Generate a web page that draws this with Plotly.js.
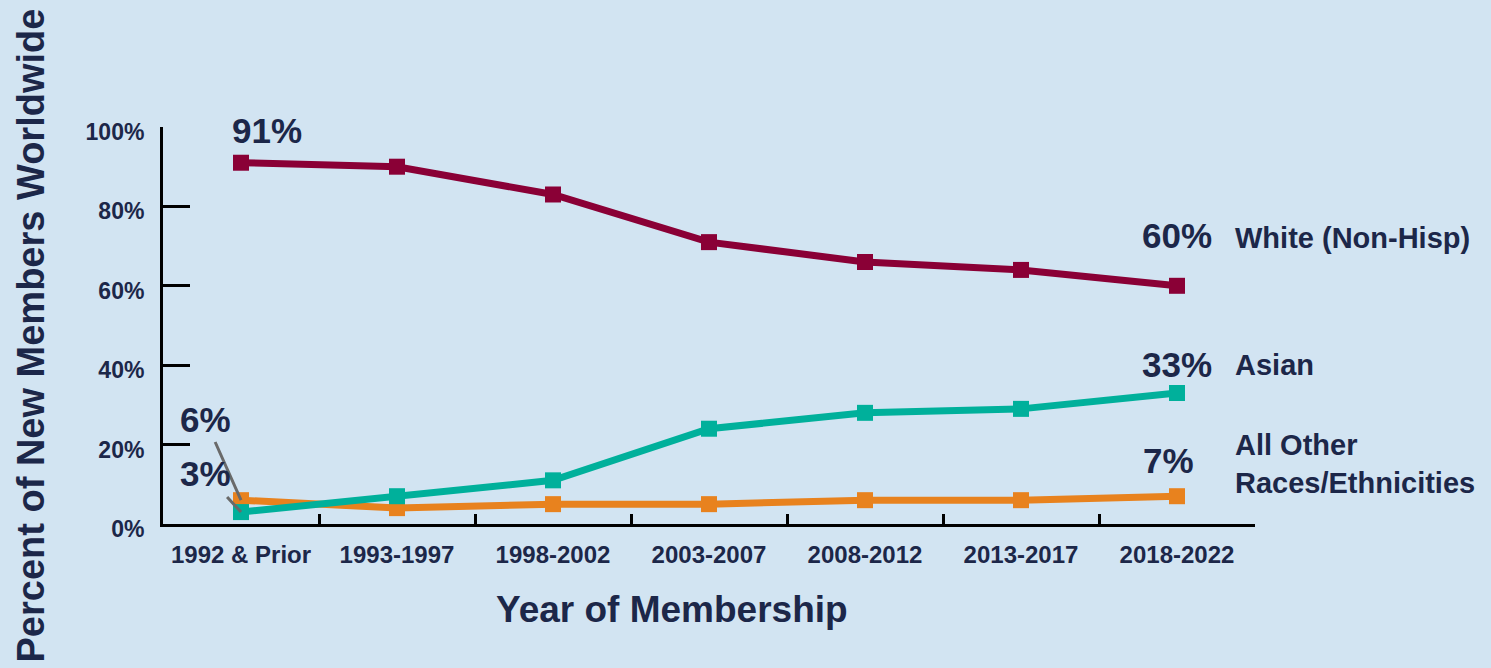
<!DOCTYPE html>
<html>
<head>
<meta charset="utf-8">
<script src="https://cdn.plot.ly/plotly-3.0.1.min.js"></script>
<style>html,body{margin:0;padding:0;background:#d2e4f2;}</style>
</head>
<body>
<div id="chart" style="width:1491px;height:668px;"></div>
<script>
const categories = ['1992 & Prior','1993-1997','1998-2002','2003-2007','2008-2012','2013-2017','2018-2022'];
const whiteNonHisp = [91, 90, 83, 71, 66, 64, 60];
const asian = [3, 7, 11, 24, 28, 29, 33];
const allOther = [6, 4, 5, 5, 6, 6, 7];
const yTickVals = [0, 20, 40, 60, 80, 100];
const yTickText = ['0%', '20%', '40%', '60%', '80%', '100%'];
const seriesNames = ['White (Non-Hisp)', 'Asian', 'All Other<br>Races/Ethnicities'];

const FONT = 'Liberation Sans, Arial, Helvetica, sans-serif';
const NAVY = '#1c2749';
const C_WHITE = '#8a0036';
const C_ASIAN = '#00b09b';
const C_OTHER = '#e8821e';

function trace(y, color, name) {
  return {
    x: categories, y: y, name: name, type: 'scatter', mode: 'lines+markers',
    line: {color: color, width: 7},
    marker: {symbol: 'square', size: 16, color: color},
    cliponaxis: false, hoverinfo: 'skip'
  };
}

const data = [
  trace(whiteNonHisp, C_WHITE, seriesNames[0]),
  trace(allOther, C_OTHER, 'All Other Races/Ethnicities'),
  trace(asian, C_ASIAN, seriesNames[1])
];

const last = categories.length - 1;
const pctFont = {family: FONT, size: 35, color: NAVY, weight: 'bold'};
const lblFont = {family: FONT, size: 29, color: NAVY, weight: 'bold'};

const annotations = [
  {x: categories[0], y: whiteNonHisp[0], text: whiteNonHisp[0] + '%', showarrow: false,
   xanchor: 'center', yanchor: 'middle', xshift: 26, yshift: 32, font: pctFont},
  {x: categories[last], y: whiteNonHisp[last], text: whiteNonHisp[last] + '%', showarrow: false,
   xanchor: 'center', yanchor: 'middle', xshift: 0, yshift: 50, font: pctFont},
  {x: categories[last], y: asian[last], text: asian[last] + '%', showarrow: false,
   xanchor: 'center', yanchor: 'middle', xshift: 0, yshift: 28, font: pctFont},
  {x: categories[last], y: allOther[last], text: allOther[last] + '%', showarrow: false,
   xanchor: 'center', yanchor: 'middle', xshift: -9, yshift: 36, font: pctFont},
  {x: categories[0], y: allOther[0], text: allOther[0] + '%', showarrow: true,
   arrowhead: 0, arrowwidth: 3, arrowcolor: '#6a6a6a', ax: -36, ay: -81,
   startstandoff: 2, standoff: 0, font: pctFont},
  {x: categories[0], y: asian[0], text: asian[0] + '%', showarrow: true,
   arrowhead: 0, arrowwidth: 3, arrowcolor: '#6a6a6a', ax: -36, ay: -39,
   startstandoff: 4, standoff: 0, font: pctFont},
  {x: categories[last], y: whiteNonHisp[last], text: seriesNames[0], showarrow: false,
   xanchor: 'left', yanchor: 'middle', xshift: 56, yshift: 48, font: lblFont},
  {x: categories[last], y: asian[last], text: seriesNames[1], showarrow: false,
   xanchor: 'left', yanchor: 'middle', xshift: 56, yshift: 28, font: lblFont},
  {x: categories[last], y: allOther[last], text: seriesNames[2], showarrow: false,
   xanchor: 'left', yanchor: 'middle', align: 'left', xshift: 56, yshift: 32, font: lblFont},
  {xref: 'paper', yref: 'paper', x: 0.466, y: -0.215, text: 'Year of Membership', showarrow: false,
   xanchor: 'center', yanchor: 'middle', font: {family: FONT, size: 37, color: NAVY, weight: 'bold'}},
  {xref: 'paper', yref: 'paper', x: 0, y: 0.5, xshift: -133, yshift: -10, textangle: -90,
   text: 'Percent of New Members Worldwide', showarrow: false,
   xanchor: 'center', yanchor: 'middle', font: {family: FONT, size: 38, color: NAVY, weight: 'bold'}}
];

const layout = {
  width: 1491, height: 668, autosize: false,
  paper_bgcolor: '#d2e4f2', plot_bgcolor: '#d2e4f2',
  margin: {l: 163, r: 236, t: 127, b: 144, pad: 0},
  showlegend: false,
  font: {family: FONT, color: NAVY},
  xaxis: {
    type: 'category', range: [-0.5, 6.5], showgrid: false, zeroline: false,
    showline: true, linecolor: '#000', linewidth: 3,
    ticks: 'inside', tickson: 'boundaries', ticklen: 10, tickwidth: 3, tickcolor: '#000',
    ticklabelstandoff: 7,
    tickfont: {family: FONT, size: 24, color: NAVY, weight: 'bold'},
    fixedrange: true
  },
  yaxis: {
    range: [0, 100], showgrid: false, zeroline: false,
    showline: true, linecolor: '#000', linewidth: 3,
    tickmode: 'array', tickvals: yTickVals, ticktext: yTickText,
    ticks: 'inside', ticklen: 27, tickwidth: 3, tickcolor: '#000',
    ticklabelstandoff: 11, ticklabelshift: 5,
    tickfont: {family: FONT, size: 23, color: NAVY, weight: 'bold'},
    fixedrange: true
  },
  annotations: annotations
};

Plotly.newPlot('chart', data, layout, {displayModeBar: false, staticPlot: true});
</script>
</body>
</html>
